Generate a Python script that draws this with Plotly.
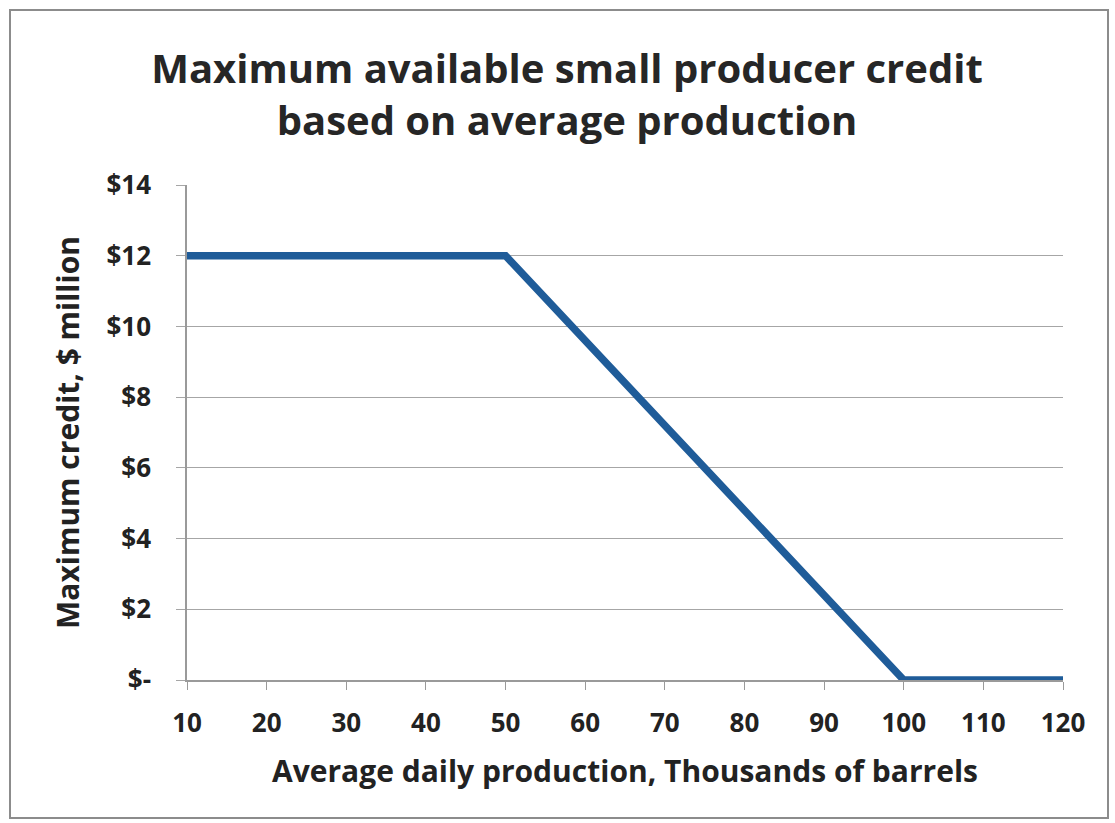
import plotly.graph_objects as go

production = [10, 50, 100, 120]
credit = [12, 12, 0, 0]
x_ticks = [10, 20, 30, 40, 50, 60, 70, 80, 90, 100, 110, 120]
y_ticks = [0, 2, 4, 6, 8, 10, 12, 14]
y_tick_labels = ["$-", "$2", "$4", "$6", "$8", "$10", "$12", "$14"]

W, H = 1115, 823
L, R, T, B = 187, 52, 185, 143
pw, ph = W - L - R, H - T - B

def px(x):
    return (x - L) / pw

def py(y):
    return (H - B - y) / ph

font_family = "'Open Sans', sans-serif"
txt = "#222222"

fig = go.Figure()
fig.add_trace(go.Scatter(
    x=production, y=credit, mode="lines",
    line=dict(color="#1f5c99", width=7.5),
    showlegend=False, hoverinfo="skip",
))

fig.update_layout(
    width=W, height=H, autosize=False,
    margin=dict(l=L, r=R, t=T, b=B),
    paper_bgcolor="white", plot_bgcolor="white",
    font=dict(family=font_family, color=txt),
    title=dict(
        text="<b>Maximum available small producer credit<br>based on average production</b>",
        x=567 / W, xanchor="center", xref="container",
        y=(H - 83) / H, yanchor="middle", yref="container",
        font=dict(size=40, color="#262626", family=font_family),
    ),
    xaxis=dict(
        range=[10, 120], tickvals=x_ticks, ticktext=[str(v) for v in x_ticks],
        showgrid=False, zeroline=False,
        showline=True, linecolor="#9a9a9a", linewidth=1.5,
        ticks="outside", ticklen=8, tickcolor="#9a9a9a",
        ticklabelstandoff=11,
        tickfont=dict(size=26, family=font_family, color=txt, weight="bold"),
        title=dict(text="<b>Average daily production, Thousands of barrels</b>",
                   font=dict(size=30, family=font_family, color=txt), standoff=22),
    ),
    yaxis=dict(
        range=[0, 14], tickvals=y_ticks, ticktext=y_tick_labels,
        showgrid=True, gridcolor="#a6a6a6", gridwidth=1.2,
        zeroline=False,
        showline=True, linecolor="#9a9a9a", linewidth=1.5,
        ticks="outside", ticklen=9, tickcolor="#a6a6a6",
        ticklabelstandoff=20,
        tickfont=dict(size=26, family=font_family, color=txt, weight="bold"),
        title=dict(text="<b>Maximum credit, $ million</b>",
                   font=dict(size=30, family=font_family, color=txt), standoff=18),
    ),
    shapes=[dict(
        type="rect", xref="paper", yref="paper",
        x0=px(10), x1=px(1108), y0=py(818), y1=py(10),
        line=dict(color="#8c8c8c", width=2), fillcolor="rgba(0,0,0,0)", layer="below",
    )],
)

fig.write_html("out.html", config={"displayModeBar": False},
               post_script="document.body.style.margin='0';document.body.style.padding='0';")
